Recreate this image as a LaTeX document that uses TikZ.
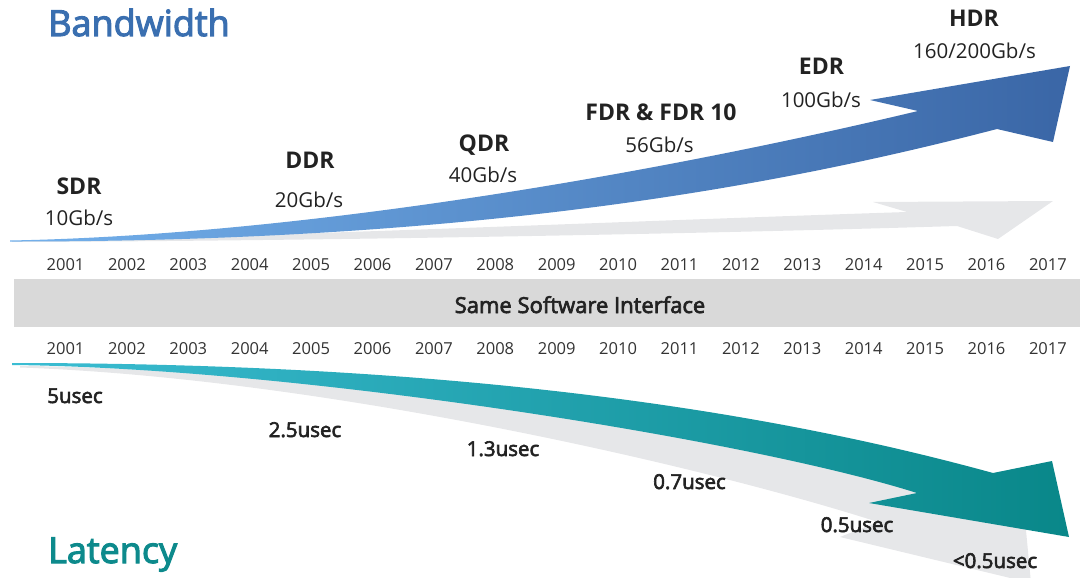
\documentclass[tikz,border=0pt]{standalone}
\usepackage{fontspec}
\setmainfont{Open Sans}
\newfontfamily\semib{Open Sans}[FakeBold=3]
\definecolor{bwL}{HTML}{74B1EC}
\definecolor{bwR}{HTML}{3A66A6}
\definecolor{ltL}{HTML}{3BBDD3}
\definecolor{ltR}{HTML}{098789}
\definecolor{arrgray}{HTML}{E6E7E9}
\definecolor{bandgray}{HTML}{D9D9D9}
\definecolor{txt}{HTML}{222222}
\definecolor{yrtxt}{HTML}{333333}
\definecolor{bwtitle}{HTML}{3A6FB0}
\definecolor{lttitle}{HTML}{0D8A8C}
\tikzset{
  title/.style={anchor=base west, inner sep=0pt, font=\semib\fontsize{36}{40}\selectfont},
  gen/.style={anchor=base, inner sep=0pt, text=txt, font=\bfseries\fontsize{23}{26}\selectfont},
  rate/.style={anchor=base, inner sep=0pt, text=txt, font=\fontsize{20.5}{24}\selectfont},
  lat/.style={anchor=base, inner sep=0pt, text=txt, font=\semib\fontsize{20.5}{24}\selectfont},
  year/.style={anchor=base, inner sep=0pt, text=yrtxt, font=\fontsize{16.5}{19}\selectfont},
}
\begin{document}
\begin{tikzpicture}[x=1pt,y=-1pt]
\useasboundingbox (0,0) rectangle (1080,578);
% grey bandwidth arrow
\fill[arrgray] (12,241) .. controls (300,236) and (600,222) .. (907,212) -- (873,202) -- (1053,201) -- (998,239) -- (957,226) .. controls (700,234) and (300,241) .. (12,242) -- cycle;
% blue bandwidth arrow
\shade[left color=bwL, right color=bwR] (10,240.5) .. controls (300,235) and (650,175) .. (918,111) -- (870,100) -- (1070,66) -- (1053,142) -- (997,129) .. controls (800,180) and (500,242) .. (10,241.5) -- cycle;
% grey latency arrow
\fill[arrgray] (20,366) .. controls (300,367) and (750,435) .. (1022,488) -- (1031,583) -- (840,537) -- (878,522) .. controls (700,465) and (320,378) .. (20,367.5) -- cycle;
% teal latency arrow
\shade[left color=ltL, right color=ltR] (12,363) .. controls (500,363) and (800,420) .. (993,473) -- (1052,461) -- (1069,537) -- (869,503) -- (917,493) .. controls (750,440) and (300,368) .. (12,365) -- cycle;
% band
\fill[bandgray] (14,279) rectangle (1080,327);
\node[anchor=base, inner sep=0pt, text=txt, font=\semib\fontsize{22}{26}\selectfont] (band) at (580,313) {Same Software Interface};
% titles
\node[title, text=bwtitle] (bw) at (48,36) {Bandwidth};
\node[title, text=lttitle] (lt) at (48,563) {Latency};
% years
\foreach \i in {0,...,16} {
  \pgfmathtruncatemacro\yr{2001+\i}
  \node[year] (yt\i) at ({65.5+\i*61.4},270) {\yr};
  \node[year] (yb\i) at ({65.5+\i*61.4},354) {\yr};
}
% bandwidth labels
\node[gen] (sdr) at (79,194) {SDR};
\node[rate] (sdrr) at (79,225) {10Gb/s};
\node[gen] (ddr) at (310,168) {DDR};
\node[rate] (ddrr) at (309,207) {20Gb/s};
\node[gen] (qdr) at (484,151) {QDR};
\node[rate] (qdrr) at (483,182) {40Gb/s};
\node[gen] (fdr) at (661,121) {FDR \& FDR 10};
\node[rate] (fdrr) at (659.5,153) {56Gb/s};
\node[gen] (edr) at (821.5,75) {EDR};
\node[rate] (edrr) at (821,107) {100Gb/s};
\node[gen] (hdr) at (974,27) {HDR};
\node[rate] (hdrr) at (974.5,59) {160/200Gb/s};
% latency labels
\node[lat] (l1) at (75,403) {5usec};
\node[lat] (l2) at (305,437) {2.5usec};
\node[lat] (l3) at (503,456) {1.3usec};
\node[lat] (l4) at (689.5,489) {0.7usec};
\node[lat] (l5) at (857,532) {0.5usec};
\node[lat] (l6) at (995,568) {<0.5usec};
\end{tikzpicture}
\end{document}
